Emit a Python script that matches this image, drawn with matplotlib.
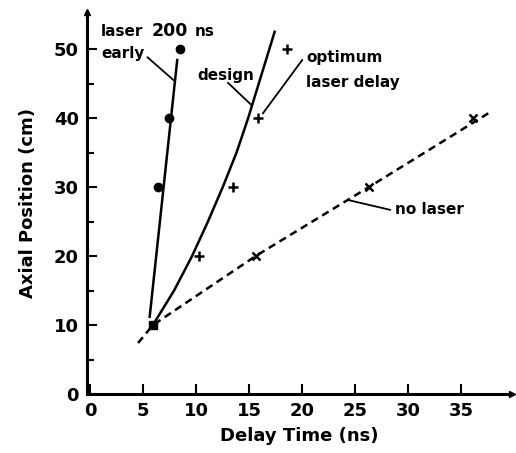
import numpy as np
import matplotlib
matplotlib.use("Agg")
import matplotlib.pyplot as plt

############### data ################################
# laser 200 ns early (filled circles) and its fitted line
early_x = [6.4, 7.4, 8.5]
early_y = [30, 40, 50]
early_line_x = [5.6, 8.2]
early_line_y = [11.2, 48.4]

# common start point (square)
start_x = [5.9]
start_y = [10]

# optimum laser delay (+) and the design curve
opt_x = [10.3, 13.5, 15.8, 18.6]
opt_y = [20, 30, 40, 50]
design_x = [5.9, 7.9, 9.6, 11.1, 12.5, 13.8, 14.9, 15.9, 17.4]
design_y = [10, 15, 20, 25, 30, 35, 40, 45, 52.5]

# no laser (x) and dashed line
nolas_x = [15.6, 26.3, 36.1]
nolas_y = [20, 30, 40]
nolas_line_x = [4.5, 5.9, 15.6, 26.3, 37.9]
nolas_line_y = [7.4, 10, 20, 30, 41]

xticks = [0, 5, 10, 15, 20, 25, 30, 35]
yticks = [0, 10, 20, 30, 40, 50]

############### draw ################################
plt.rcParams['font.family'] = ['DejaVu Sans']
fig = plt.figure(figsize=(5.16, 4.53), dpi=100)
ax = fig.add_axes([0.169, 0.130, 0.823, 0.844])
ax.set_xlim(-0.3, 39.8)
ax.set_ylim(0, 55.4)

ink = 'black'
ax.plot(early_line_x, early_line_y, color=ink, lw=1.8)
ax.plot(design_x, design_y, color=ink, lw=1.8)
ax.plot(nolas_line_x, nolas_line_y, color=ink, lw=1.8, ls=(0, (3, 2)))

ax.plot(early_x, early_y, 'o', color=ink, ms=6)
ax.plot(start_x, start_y, 's', color=ink, ms=6)
ax.plot(opt_x, opt_y, '+', color=ink, ms=7, mew=1.8)
ax.plot(nolas_x, nolas_y, 'x', color=ink, ms=6, mew=1.8)

# annotations
tf = dict(fontsize=11, fontweight='bold', color=ink)
ax.text(0.95, 52.5, 'laser', va='center', ha='left', **tf)
ax.text(5.8, 52.6, '200', va='center', ha='left', fontsize=12.5,
        fontweight='bold', color=ink)
ax.text(9.9, 52.5, 'ns', va='center', ha='left', **tf)
ax.text(1.0, 49.4, 'early', va='center', ha='left', **tf)
ax.plot([5.4, 7.85], [48.8, 45.5], color=ink, lw=1.3)
ax.text(10.1, 46.2, 'design', va='center', ha='left', **tf)
ax.plot([13.0, 15.2], [45.1, 41.9], color=ink, lw=1.3)
ax.text(20.4, 48.8, 'optimum', va='center', ha='left', **tf)
ax.text(20.4, 45.2, 'laser delay', va='center', ha='left', **tf)
ax.plot([20.0, 16.3], [48.4, 40.7], color=ink, lw=1.3)
ax.text(28.8, 26.8, 'no laser', va='center', ha='left', **tf)
ax.plot([24.4, 28.3], [28.1, 26.7], color=ink, lw=1.3)

# axes
for s in ['top', 'right']:
    ax.spines[s].set_visible(False)
for s in ['left', 'bottom']:
    ax.spines[s].set_linewidth(2.2)
ax.plot([-0.3], [55.4], '^', color=ink, ms=5, clip_on=False)
ax.plot([39.8], [0], '>', color=ink, ms=5, clip_on=False)

ax.set_xticks(xticks)
ax.set_yticks(yticks)
ax.set_yticks(np.arange(5, 55, 10), minor=True)
ax.tick_params(axis='both', which='both', direction='in', width=1.5)
ax.tick_params(axis='both', which='major', length=7, labelsize=13, pad=6)
ax.tick_params(axis='y', which='minor', length=5)
for lab in ax.get_xticklabels() + ax.get_yticklabels():
    lab.set_fontweight('bold')

ax.set_xlabel('Delay Time (ns)', fontsize=13, fontweight='bold', labelpad=5)
ax.set_ylabel('Axial Position (cm)', fontsize=13, fontweight='bold', labelpad=12)

plt.savefig('out.png', dpi=100)
